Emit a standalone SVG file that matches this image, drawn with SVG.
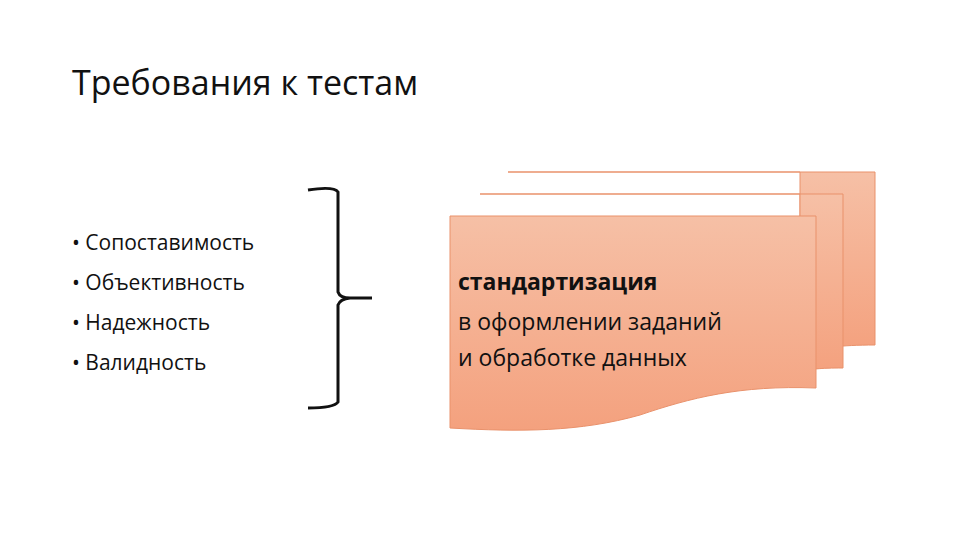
<svg xmlns="http://www.w3.org/2000/svg" width="960" height="540" viewBox="0 0 960 540">
<defs>
<linearGradient id="g" x1="0" y1="0" x2="0" y2="1">
<stop offset="0" stop-color="#f6c0a6"/>
<stop offset="1" stop-color="#f4a17e"/>
</linearGradient>
<style>
.doc{fill:url(#g);stroke:#e9916b;stroke-width:1}
.t{font-family:"Open Sans","Liberation Sans",sans-serif;fill:#111}
</style>
</defs>
<rect width="960" height="540" fill="#fff"/>
<text class="t" x="72" y="95" font-size="34" fill="#222">Требования к тестам</text>
<g id="list" class="t" font-size="21">
<text x="72" y="250">• Сопоставимость</text>
<text x="72" y="290">• Объективность</text>
<text x="72" y="330">• Надежность</text>
<text x="72" y="370">• Валидность</text>
</g>
<g id="connectors">
<path d="M308 190 Q334 186 338 192 L338 292 Q340 298 350 298 L372 298 M350 298 Q340 299 338 305 L338 402 Q334 408 308 408" fill="none" stroke="#111" stroke-width="3"/>
</g>
<g id="docs">
<path class="doc" d="M508 172 H875 V345 C840 345 820 348 800 352 L800 172 Z"/>
<path class="doc" d="M480 194 H843 V368 C820 368 810 369 800 372 L800 194 Z"/>
<path class="doc" d="M450 216 H816 V388 C740 385 690 398 640 415 C580 432 520 432 450 428 Z"/>
<text class="t" x="458" y="290" font-size="23" font-weight="bold">стандартизация</text>
<text class="t" x="458" y="330" font-size="23">в оформлении заданий</text>
<text class="t" x="458" y="366" font-size="23">и обработке данных</text>
</g>
</svg>
